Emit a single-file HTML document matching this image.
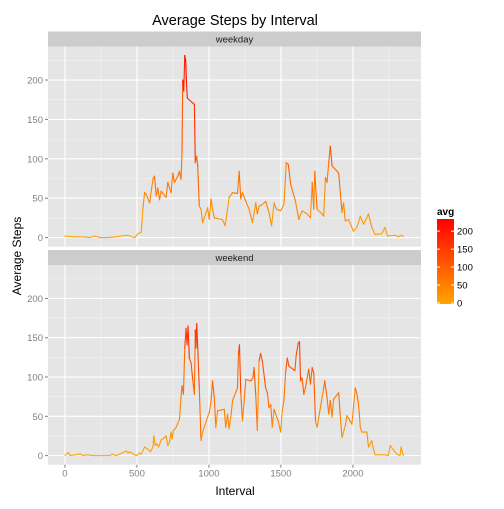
<!DOCTYPE html>
<html><head><meta charset="utf-8"><style>
body{margin:0;background:#fff}
svg text{font-family:"Liberation Sans",sans-serif}
</style></head><body>
<svg id="c" width="504" height="504" viewBox="0 0 504 504" xmlns="http://www.w3.org/2000/svg"></svg>
<script>
const xTicks=[0,500,1000,1500,2000];
const yTicks=[0,50,100,150,200];
const legendTicks=[0,50,100,150,200];
const panelNames=["weekday","weekend"];
const weekdayIntervals=[0,58,127,173,207,242,288,357,431,484,507,530,541,553,564,588,611,622,634,645,657,668,703,714,737,749,760,783,795,806,813,818,825,832,839,843,850,899,905,915,922,933,945,956,968,991,1002,1014,1025,1037,1094,1113,1140,1164,1198,1210,1221,1233,1256,1279,1302,1325,1336,1348,1371,1394,1417,1435,1452,1468,1498,1521,1537,1551,1567,1601,1624,1647,1682,1705,1717,1728,1735,1751,1786,1797,1809,1820,1832,1843,1855,1901,1924,1935,1947,1970,2004,2028,2051,2074,2108,2131,2154,2200,2223,2240,2292,2316,2339,2350];
const weekdaySteps=[2,1,1,0,2,0,0,1,3,0,5,7,36,57,55,44,74,78,53,63,48,59,51,70,57,82,70,78,84,74,108,200,186,231,224,200,177,169,95,103,91,40,36,19,25,38,23,49,36,25,23,15,51,57,56,84,49,57,46,36,19,44,30,40,42,46,32,15,44,36,34,42,95,93,68,46,23,34,30,25,70,36,84,36,30,27,76,70,95,116,91,82,32,44,21,23,8,13,27,17,30,13,4,5,13,2,3,1,3,1];
const weekendIntervals=[0,23,35,104,127,150,196,311,329,357,392,426,438,449,495,518,530,553,576,594,611,617,627,638,650,668,691,703,714,726,737,744,753,772,795,806,813,823,832,841,848,855,864,876,887,899,905,910,915,922,933,945,956,1002,1014,1025,1037,1048,1060,1106,1117,1129,1140,1152,1164,1198,1205,1212,1221,1233,1244,1256,1290,1306,1313,1325,1336,1348,1359,1371,1394,1406,1417,1429,1440,1452,1481,1498,1509,1521,1532,1544,1555,1597,1606,1620,1629,1636,1647,1659,1670,1693,1705,1717,1728,1740,1751,1763,1797,1804,1820,1832,1843,1855,1866,1901,1912,1924,1947,1958,1993,2016,2028,2039,2046,2051,2062,2097,2108,2131,2143,2154,2223,2246,2258,2304,2327,2334,2350];
const weekendSteps=[0,4,0,2,0,1,0,0,2,0,3,6,3,5,0,3,2,11,8,5,11,25,13,15,11,20,23,25,13,17,30,21,32,36,46,74,89,78,137,162,141,165,124,118,97,78,160,137,168,137,86,19,30,55,68,95,74,36,57,59,36,53,34,49,70,86,130,141,80,44,68,97,95,99,112,78,32,120,130,120,86,80,61,65,36,59,44,30,57,70,105,124,114,108,128,143,145,95,99,78,86,110,91,112,105,44,36,49,86,95,74,53,70,49,72,80,51,23,38,51,40,86,78,65,49,36,30,30,11,19,8,1,1,0,13,2,0,11,0];

const NS="http://www.w3.org/2000/svg";
const svg=document.getElementById('c');
function mk(tag,attrs,parent){const e=document.createElementNS(NS,tag);for(const k in attrs)e.setAttribute(k,attrs[k]);(parent||svg).appendChild(e);return e;}
const PL=48,PR=421;
const xMin=-117.75,xMax=2472.75;
const allMax=Math.max(...weekdaySteps,...weekendSteps);
const yMin=-0.05*allMax,yMax=allMax*1.05;
const sx=v=>PL+(v-xMin)/(xMax-xMin)*(PR-PL);
const panels=[{top:46.5,bot:246.7,stripTop:31.5},{top:265,bot:464.7,stripTop:250}];
function col(v){const t=Math.max(0,Math.min(1,v/allMax));return `rgb(255,${Math.round(165*(1-t))},0)`;}

mk('text',{x:235,y:25,'text-anchor':'middle','font-size':'14.5',fill:'#000',}).textContent='Average Steps by Interval';

const datasets=[[weekdayIntervals,weekdaySteps],[weekendIntervals,weekendSteps]];
panels.forEach((p,i)=>{
  const sy=v=>p.bot-(v-yMin)/(yMax-yMin)*(p.bot-p.top);
  const g=mk('g',{});
  
  
  const s=mk('rect',{x:PL,y:p.stripTop,width:PR-PL,height:p.top-p.stripTop,fill:'#cccccc'},g);
  
  
  const st=mk('text',{x:(PL+PR)/2,y:p.stripTop+11,'text-anchor':'middle','font-size':'9.5',fill:'#1a1a1a'},g);
  
  
  st.textContent=panelNames[i];
  const bg=mk('rect',{x:PL,y:p.top,width:PR-PL,height:p.bot-p.top,fill:'#e5e5e5'},g);
  
  
  for(let k=0;k<xTicks.length;k++){const m=(xTicks[k]+(xTicks[k+1]!==undefined?xTicks[k+1]:xTicks[k]+500))/2;
    if(m<xMax) mk('line',{x1:sx(m),x2:sx(m),y1:p.top,y2:p.bot,stroke:'#f2f2f2','stroke-width':0.6},g);}
  for(let k=0;k<yTicks.length;k++){const m=yTicks[k]+25;if(m<yMax) mk('line',{x1:PL,x2:PR,y1:sy(m),y2:sy(m),stroke:'#f2f2f2','stroke-width':0.6},g);}
  xTicks.forEach(t=>mk('line',{x1:sx(t),x2:sx(t),y1:p.top,y2:p.bot,stroke:'#fff','stroke-width':1.1},g));
  yTicks.forEach(t=>{mk('line',{x1:PL,x2:PR,y1:sy(t),y2:sy(t),stroke:'#fff','stroke-width':1.1},g);
    mk('line',{x1:PL-3,x2:PL,y1:sy(t),y2:sy(t),stroke:'#7f7f7f','stroke-width':1},g);
    const tl=mk('text',{x:PL-5,y:sy(t)+3.5,'text-anchor':'end','font-size':'9.5',fill:'#7f7f7f'},g);
    
    
    tl.textContent=t;});
  const [xs,ys]=datasets[i];
  for(let k=0;k<xs.length-1;k++){
    const ln=mk('line',{x1:sx(xs[k]),y1:sy(ys[k]),x2:sx(xs[k+1]),y2:sy(ys[k+1]),stroke:col(ys[k]),'stroke-width':1.1,'stroke-linecap':'round'},g);
    
    
  }
  if(i===1){xTicks.forEach(t=>{mk('line',{x1:sx(t),x2:sx(t),y1:p.bot,y2:p.bot+3,stroke:'#7f7f7f'},g);
    const tl=mk('text',{x:sx(t),y:p.bot+12,'text-anchor':'middle','font-size':'9.5',fill:'#7f7f7f'},g);
    
    
    tl.textContent=t;});}
});
mk('text',{x:235,y:495,'text-anchor':'middle','font-size':'12',fill:'#000',}).textContent='Interval';
mk('text',{x:0,y:0,transform:'translate(21,256) rotate(-90)','text-anchor':'middle','font-size':'12',fill:'#000',}).textContent='Average Steps';

// legend
const defs=mk('defs',{});
const lg=mk('linearGradient',{id:'lgr',x1:0,y1:1,x2:0,y2:0},defs);
mk('stop',{offset:0,'stop-color':'rgb(255,165,0)'},lg);
mk('stop',{offset:1,'stop-color':'rgb(255,0,0)'},lg);
const leg=mk('g',{});
mk('text',{x:437,y:215,'font-size':'10','font-weight':'bold',fill:'#000'},leg).textContent='avg';
const lbTop=219,lbBot=304;
mk('rect',{x:437,y:lbTop,width:17,height:lbBot-lbTop,fill:'url(#lgr)'},leg);
const ly=v=>lbBot-1-(v/allMax)*(lbBot-lbTop-2);
legendTicks.forEach(t=>{const y=ly(t);
  mk('line',{x1:437,x2:440,y1:y,y2:y,stroke:'#fff'},leg);
  mk('line',{x1:451,x2:454,y1:y,y2:y,stroke:'#fff'},leg);
  const tl=mk('text',{x:457,y:y+3.5,'font-size':'9.5',fill:'#000'},leg);
  
  
  tl.textContent=t;});
</script>
</body></html>
